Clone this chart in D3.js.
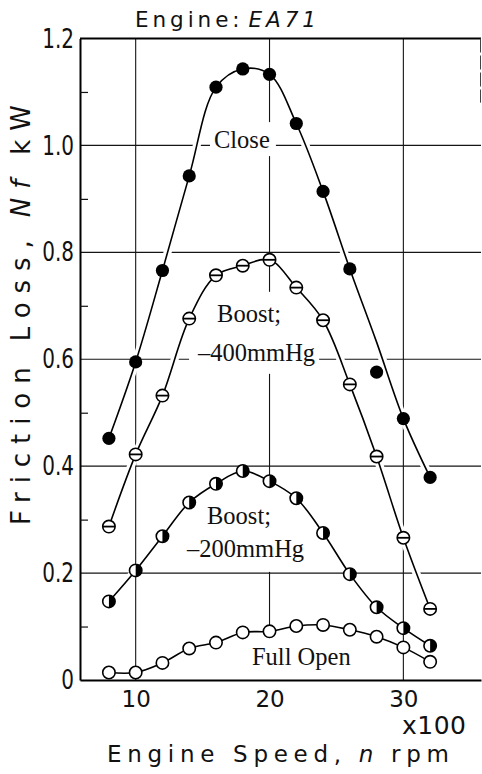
<!DOCTYPE html>
<html>
<head>
<meta charset="utf-8">
<script src="https://cdn.jsdelivr.net/npm/d3@7"></script>
<style>
  html, body { margin: 0; padding: 0; background: #fff; }
  svg { display: block; }
</style>
</head>
<body>
<svg id="chart" width="482" height="774"></svg>
<script>
// Engine speed (x100 rpm) at which friction loss was measured
const speeds = [8, 10, 12, 14, 16, 18, 20, 22, 24, 26, 28, 30, 32];

// Friction loss Nf (kW) for each throttle condition
const closeLoss    = [0.452, 0.595, 0.766, 0.943, 1.109, 1.143, 1.133, 1.041, 0.914, 0.769, 0.576, 0.489, 0.379];
const closeTrend   = [0.452, 0.595, 0.766, 0.943, 1.109, 1.143, 1.133, 1.041, 0.914, 0.769, 0.632, 0.489, 0.379];
const boost400Loss = [0.287, 0.422, 0.532, 0.676, 0.757, 0.775, 0.786, 0.734, 0.673, 0.553, 0.418, 0.266, 0.133];
const boost200Loss = [0.147, 0.205, 0.269, 0.332, 0.367, 0.391, 0.372, 0.340, 0.275, 0.198, 0.136, 0.097, 0.064];
const fullOpenLoss = [0.014, 0.014, 0.032, 0.059, 0.070, 0.089, 0.091, 0.101, 0.103, 0.094, 0.081, 0.061, 0.034];

// Axis ticks
const yMajorTicks = [0, 0.2, 0.4, 0.6, 0.8, 1.0, 1.2];
const yTickLabels = ["0", "0.2", "0.4", "0.6", "0.8", "1.0", "1.2"];
const yMinorTicks = [0.1, 0.3, 0.5, 0.7, 0.9, 1.1];
const xTicks = [10, 20, 30];
const xTickLabels = ["10", "20", "30"];

// Curve labels
const closeLabel    = ["Close"];
const boost400Label = ["Boost;", "\u2013400mmHg"];
const boost200Label = ["Boost;", "\u2013200mmHg"];
const fullOpenLabel = ["Full Open"];

const series = [
  { values: closeLoss,    trend: closeTrend,   marker: "filled", label: closeLabel,    at: [15.85, 0.995], dy: 0,  pad: [4, 4, 7, 3] },
  { values: boost400Loss, trend: boost400Loss, marker: "bar",    label: boost400Label, at: [16.08, 0.670], dy: 39, pad: [8, 6, 6, 8], indent: [0, -19] },
  { values: boost200Loss, trend: boost200Loss, marker: "half",   label: boost200Label, at: [15.33, 0.292], dy: 33, pad: [16, 6, 6, 10], indent: [0, -20] },
  { values: fullOpenLoss, trend: fullOpenLoss, marker: "open",   label: fullOpenLabel, at: [18.69, 0.028], dy: 0,  pad: [8, 6, 6, 14] }
];

const svg = d3.select("#chart");
const x = d3.scaleLinear().domain([5.84, 35.8]).range([80, 481]);
const y = d3.scaleLinear().domain([0, 1.2]).range([680, 38.5]);

const SANS = "'DejaVu Sans', 'Open Sans', sans-serif";
const SERIF = "'Liberation Serif', 'Times New Roman', serif";

// Spread the letters of a text so it spans a given width
function fitSpacing(t, target) {
  const n = t.text().length;
  const len = t.node().getComputedTextLength();
  t.attr("letter-spacing", (target - len) / (n - 1));
}

// ---- grid ----
const grid = svg.append("g").attr("stroke", "#151515").attr("stroke-width", 1.1);
grid.selectAll("line.h")
  .data(yMajorTicks.filter(v => v > 0 && v < 1.2))
  .join("line")
  .attr("x1", x.range()[0]).attr("x2", x.range()[1])
  .attr("y1", d => y(d)).attr("y2", d => y(d));
grid.selectAll("line.v")
  .data(xTicks)
  .join("line")
  .attr("x1", d => x(d)).attr("x2", d => x(d))
  .attr("y1", y(1.2)).attr("y2", y(0));

// ---- label backgrounds and curve halos clear the grid ----
const labelLayer = svg.append("g");
series.forEach(s => {
  const g = labelLayer.append("g");
  const t = g.append("text")
    .attr("font-family", SERIF).attr("font-size", 24.5).attr("fill", "#111");
  s.label.forEach((line, i) => {
    t.append("tspan")
      .attr("x", x(s.at[0]) + (s.indent ? s.indent[i] : 0))
      .attr("y", y(s.at[1]) + i * s.dy)
      .text(line);
  });
  const b = t.node().getBBox();
  g.insert("rect", "text")
    .attr("x", b.x - s.pad[0] + (s.pad[0] > 10 ? s.pad[0] - 6 : 0))
    .attr("y", b.y - s.pad[0])
    .attr("width", b.width + s.pad[1] + 6)
    .attr("height", b.height + s.pad[0] + s.pad[3])
    .attr("fill", "#fff");
});

const line = d3.line()
  .x((d, i) => x(speeds[i]))
  .y(d => y(d))
  .curve(d3.curveCatmullRom.alpha(0.5));

const halo = svg.append("g");
series.forEach(s => {
  halo.append("path").attr("d", line(s.trend))
    .attr("fill", "none").attr("stroke", "#fff").attr("stroke-width", 8);
});

// ---- axes ----
const yAxisMinor = d3.axisLeft(y).tickValues(yMinorTicks).tickSize(-8).tickSizeOuter(0).tickFormat("");
const gyMinor = svg.append("g").attr("transform", `translate(${x.range()[0]},0)`).call(yAxisMinor);
gyMinor.selectAll(".tick line").attr("stroke", "#111").attr("stroke-width", 1.2);
gyMinor.select(".domain").attr("stroke", "#000").attr("stroke-width", 2);

const yAxis = d3.axisLeft(y).tickValues(yMajorTicks).tickSize(0).tickPadding(6)
  .tickFormat((d, i) => yTickLabels[i]);
const gy = svg.append("g").attr("transform", `translate(${x.range()[0]},0)`).call(yAxis);
gy.select(".domain").remove();
gy.selectAll(".tick text")
  .attr("font-family", SANS).attr("font-size", 27).attr("fill", "#111")
  .each(function () {
    const len = this.getComputedTextLength();
    d3.select(this).attr("textLength", len * 0.74).attr("lengthAdjust", "spacingAndGlyphs");
  });

const xAxis = d3.axisBottom(x).tickValues(xTicks).tickSize(0).tickSizeOuter(0).tickPadding(11)
  .tickFormat((d, i) => xTickLabels[i]);
const gx = svg.append("g").attr("transform", `translate(0,${y.range()[0]})`).call(xAxis);
gx.select(".domain").attr("stroke", "#000").attr("stroke-width", 2);
gx.selectAll(".tick text").attr("font-family", SANS).attr("font-size", 23).attr("fill", "#111");

// top border and partial right edge of the frame
svg.append("line")
  .attr("x1", x.range()[0]).attr("x2", x.range()[1])
  .attr("y1", y(1.2)).attr("y2", y(1.2))
  .attr("stroke", "#000").attr("stroke-width", 1.8);
svg.append("line")
  .attr("x1", x.range()[1] - 0.5).attr("x2", x.range()[1] - 0.5)
  .attr("y1", y(1.2)).attr("y2", y(1.08))
  .attr("stroke", "#444").attr("stroke-width", 1).attr("stroke-dasharray", "14,3");

// ---- curves and markers ----
series.forEach(s => {
  svg.append("path").attr("d", line(s.trend))
    .attr("fill", "none").attr("stroke", "#000").attr("stroke-width", 1.6);
});

function drawMarker(g, kind) {
  const r = kind === "filled" ? 6.6 : 6.2;
  if (kind === "filled") {
    g.append("circle").attr("r", r).attr("fill", "#000");
    return;
  }
  g.append("circle").attr("r", r).attr("fill", "#fff").attr("stroke", "#000").attr("stroke-width", 1.6);
  if (kind === "bar") {
    g.append("line").attr("x1", -r).attr("x2", r).attr("stroke", "#000").attr("stroke-width", 1.8);
  }
  if (kind === "half") {
    g.append("path").attr("d", `M0,${-r}A${r},${r} 0 0 1 0,${r}Z`).attr("fill", "#000");
  }
}

series.forEach(s => {
  const pts = svg.append("g").selectAll("g")
    .data(s.values)
    .join("g")
    .attr("transform", (d, i) => `translate(${x(speeds[i])},${y(d)})`);
  pts.each(function () { drawMarker(d3.select(this), s.marker); });
});

// ---- titles ----
const title = svg.append("text")
  .attr("x", 135).attr("y", 27)
  .attr("font-family", SANS).attr("font-size", 21.5).attr("fill", "#111");
title.append("tspan").text("Engine:");
title.append("tspan").attr("font-style", "italic").attr("dx", 5).text("EA71");
fitSpacing(title, 176);

svg.append("text")
  .attr("x", 402).attr("y", 734)
  .attr("font-family", SANS).attr("font-size", 25).attr("fill", "#111")
  .text("x100")
  .call(t => fitSpacing(t, 64));

const xTitle = svg.append("text")
  .attr("x", 107).attr("y", 762)
  .attr("font-family", SANS).attr("font-size", 23).attr("fill", "#111");
xTitle.append("tspan").text("Engine Speed,");
xTitle.append("tspan").attr("font-style", "italic").attr("dx", 12).text("n");
xTitle.append("tspan").attr("dx", 12).text("rpm");
fitSpacing(xTitle, 318);

const yTitle = svg.append("text")
  .attr("transform", "translate(30,525) rotate(-90)")
  .attr("font-family", SANS).attr("font-size", 26).attr("fill", "#111");
yTitle.append("tspan").text("Friction Loss,");
yTitle.append("tspan").attr("font-style", "italic").attr("dx", 14).text("Nf");
yTitle.append("tspan").attr("dx", 16).text("kW");
fitSpacing(yTitle, 390);
</script>
</body>
</html>
